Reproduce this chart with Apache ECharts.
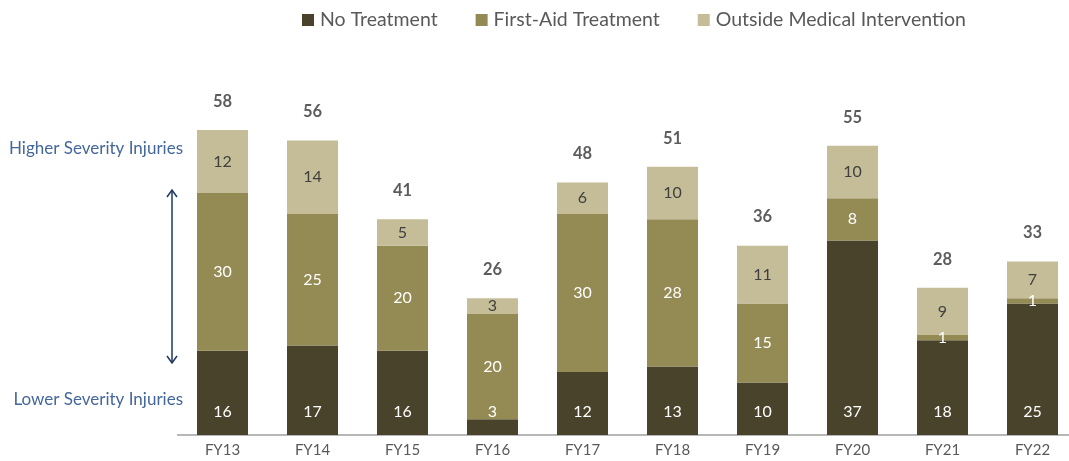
<!DOCTYPE html>
<html>
<head>
<meta charset="utf-8">
<script src="https://cdn.jsdelivr.net/npm/echarts@6/dist/echarts.min.js"></script>
<style>html,body{margin:0;padding:0;background:#fff}#c{width:1069px;height:461px}</style>
</head>
<body>
<div id="c"></div>
<script>
const categories = ['FY13','FY14','FY15','FY16','FY17','FY18','FY19','FY20','FY21','FY22'];
const noTreatment = [16,17,16,3,12,13,10,37,18,25];
const firstAid = [30,25,20,20,30,28,15,8,1,1];
const outsideMedical = [12,14,5,3,6,10,11,10,9,7];
const totals = categories.map((_, i) => noTreatment[i] + firstAid[i] + outsideMedical[i]);

const FONT = 'Lato, "Open Sans", sans-serif';
const chart = echarts.init(document.getElementById('c'), null, {renderer: 'canvas'});

chart.setOption({
  animation: false,
  textStyle: {fontFamily: FONT},
  legend: {
    left: 297, top: 5,
    itemWidth: 12, itemHeight: 12, itemGap: 38,
    icon: 'rect',
    textStyle: {fontSize: 19.5, color: '#595959', fontFamily: FONT, padding: [0, 0, 0, 1]},
    data: ['No Treatment', 'First-Aid Treatment', 'Outside Medical Intervention']
  },
  grid: {left: 177.5, width: 900, top: 119.4, bottom: 26, outerBoundsMode: 'none', containLabel: false},
  xAxis: {
    type: 'category', data: categories,
    axisLine: {lineStyle: {color: '#a0a0a0', width: 1.5}},
    axisTick: {show: false},
    axisLabel: {fontSize: 15, color: '#595959', margin: 8, fontFamily: FONT}
  },
  yAxis: {type: 'value', min: 0, max: 60, show: false, splitLine: {show: false}},
  series: [
    {
      name: 'No Treatment', type: 'bar', stack: 't', barWidth: 51,
      data: noTreatment, itemStyle: {color: '#4a432b'},
      label: {show: true, position: 'insideBottom', distance: 15, color: '#fff', fontSize: 16, fontFamily: FONT}
    },
    {
      name: 'First-Aid Treatment', type: 'bar', stack: 't', barWidth: 51,
      data: firstAid, itemStyle: {color: '#948a54'},
      label: {show: true, position: 'inside', color: '#fff', fontSize: 16, fontFamily: FONT}
    },
    {
      name: 'Outside Medical Intervention', type: 'bar', stack: 't', barWidth: 51,
      data: outsideMedical, itemStyle: {color: '#c4bd97'},
      label: {show: true, position: 'inside', color: '#404040', fontSize: 16, fontFamily: FONT}
    },
    {
      name: 'Total', type: 'scatter', data: totals, symbolSize: 0,
      label: {show: true, position: 'top', distance: 20, color: '#333', fontWeight: 'bold', fontSize: 16.5, fontFamily: FONT,
        formatter: p => p.value},
      silent: true
    }
  ],
  graphic: [
    {type: 'text', style: {text: 'Higher Severity Injuries', x: 183, y: 149, align: 'right', verticalAlign: 'middle', fill: '#44679b', fontSize: 17, fontFamily: FONT}},
    {type: 'text', style: {text: 'Lower Severity Injuries', x: 183, y: 400, align: 'right', verticalAlign: 'middle', fill: '#44679b', fontSize: 17, fontFamily: FONT}},
    {type: 'line', shape: {x1: 172, y1: 191, x2: 172, y2: 362}, style: {stroke: '#1f3864', lineWidth: 1.5}},
    {type: 'polyline', shape: {points: [[167, 197], [172, 190], [177, 197]]}, style: {stroke: '#1f3864', lineWidth: 1.5, fill: null}},
    {type: 'polyline', shape: {points: [[167, 356], [172, 363], [177, 356]]}, style: {stroke: '#1f3864', lineWidth: 1.5, fill: null}}
  ]
});
</script>
</body>
</html>
